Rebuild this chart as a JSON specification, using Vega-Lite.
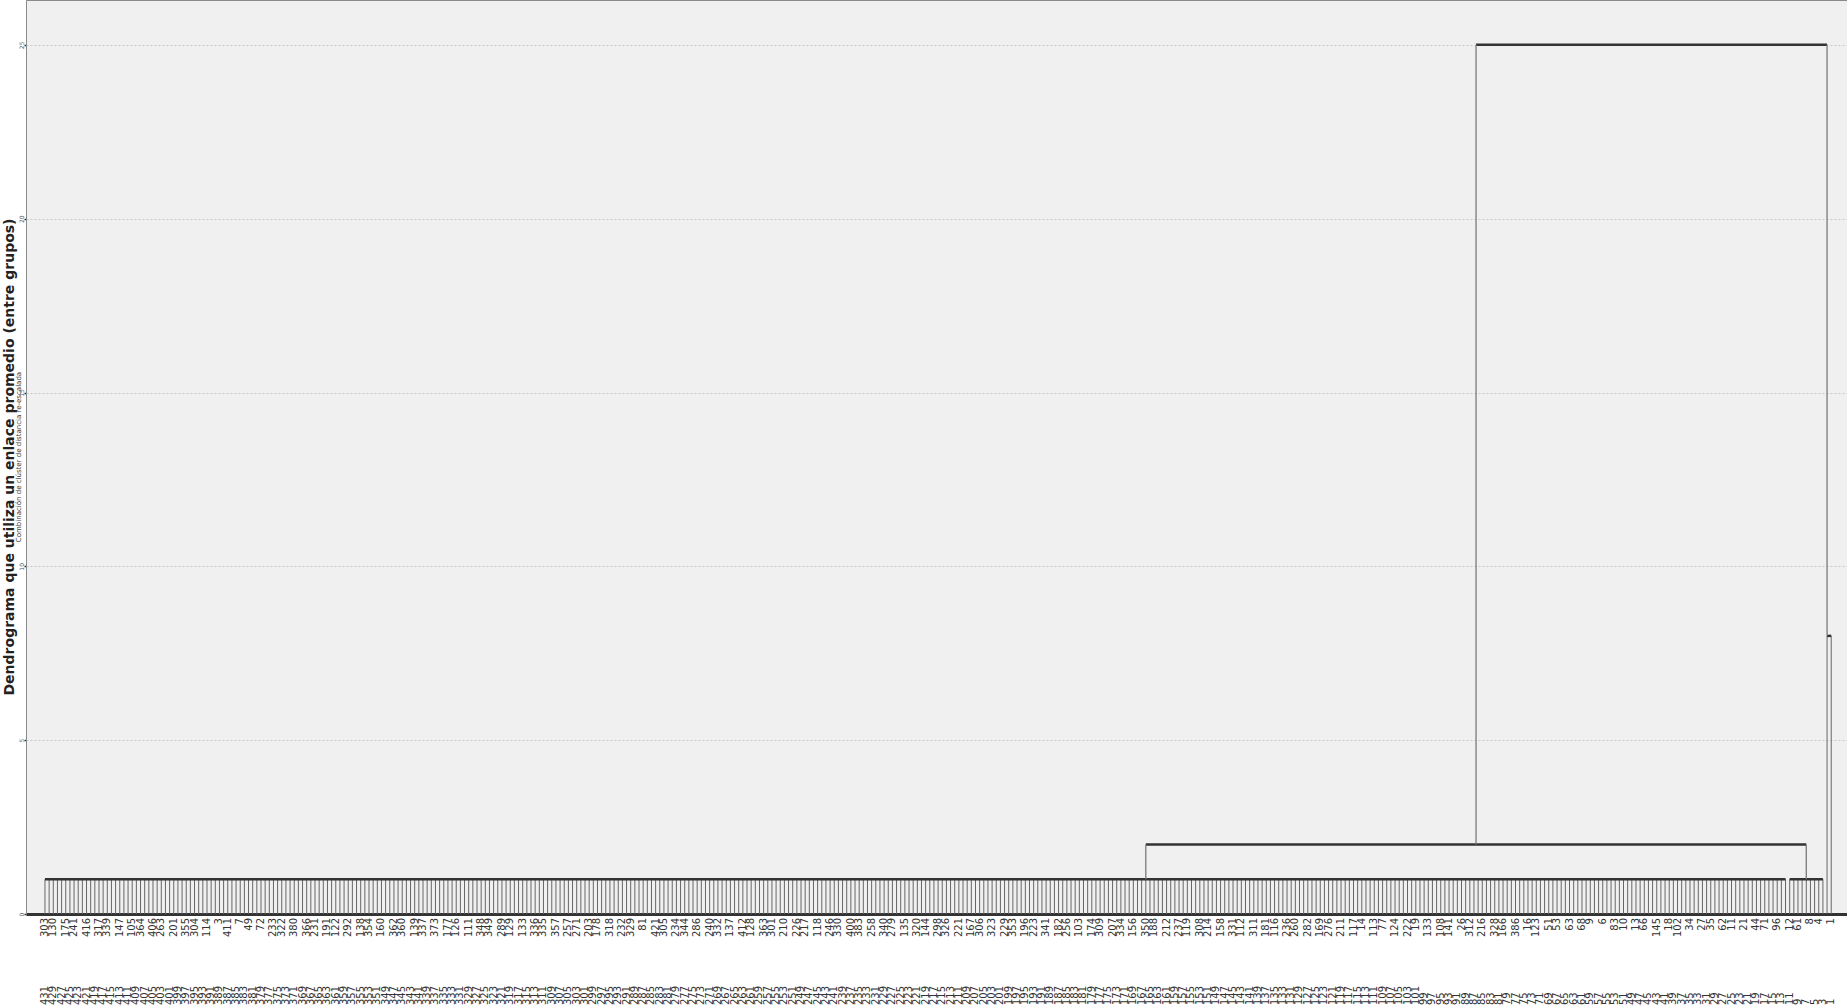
{
"$schema": "https://vega.github.io/schema/vega-lite/v6.json",
"width": 1821, "height": 914,
"autosize": {"type": "none"},
"padding": {"left": 26, "top": 0, "right": 0, "bottom": 94},
"background": "white",
"config": {"view": {"fill": "#f0f0f0", "stroke": "#8a8a8a", "strokeWidth": 1}, "font": "DejaVu Sans"},
"title": {"text": "Dendrograma que utiliza un enlace promedio (entre grupos)", "subtitle": "Combinación de clúster de distancia re-escalada", "orient": "left", "anchor": "middle", "frame": "group", "fontSize": 14, "fontWeight": "bold", "color": "#222222", "subtitleFontSize": 7, "subtitleColor": "#333333", "subtitlePadding": -2, "offset": -4, "font": "DejaVu Sans", "subtitleFont": "DejaVu Sans"},
"datasets": {
"leaves": [
{"p":1,"n":431,"h":1},{"p":2,"n":430,"h":1},{"p":3,"n":429,"h":1},{"p":4,"n":428,"h":1},{"p":5,"n":427,"h":1},{"p":6,"n":426,"h":1},{"p":7,"n":425,"h":1},{"p":8,"n":424,"h":1},{"p":9,"n":423,"h":1},{"p":10,"n":422,"h":1},
{"p":11,"n":421,"h":1},{"p":12,"n":420,"h":1},{"p":13,"n":419,"h":1},{"p":14,"n":418,"h":1},{"p":15,"n":417,"h":1},{"p":16,"n":416,"h":1},{"p":17,"n":415,"h":1},{"p":18,"n":414,"h":1},{"p":19,"n":413,"h":1},{"p":20,"n":412,"h":1},
{"p":21,"n":411,"h":1},{"p":22,"n":410,"h":1},{"p":23,"n":409,"h":1},{"p":24,"n":408,"h":1},{"p":25,"n":407,"h":1},{"p":26,"n":406,"h":1},{"p":27,"n":405,"h":1},{"p":28,"n":404,"h":1},{"p":29,"n":403,"h":1},{"p":30,"n":402,"h":1},
{"p":31,"n":401,"h":1},{"p":32,"n":400,"h":1},{"p":33,"n":399,"h":1},{"p":34,"n":398,"h":1},{"p":35,"n":397,"h":1},{"p":36,"n":396,"h":1},{"p":37,"n":395,"h":1},{"p":38,"n":394,"h":1},{"p":39,"n":393,"h":1},{"p":40,"n":392,"h":1},
{"p":41,"n":391,"h":1},{"p":42,"n":390,"h":1},{"p":43,"n":389,"h":1},{"p":44,"n":388,"h":1},{"p":45,"n":387,"h":1},{"p":46,"n":386,"h":1},{"p":47,"n":385,"h":1},{"p":48,"n":384,"h":1},{"p":49,"n":383,"h":1},{"p":50,"n":382,"h":1},
{"p":51,"n":381,"h":1},{"p":52,"n":380,"h":1},{"p":53,"n":379,"h":1},{"p":54,"n":378,"h":1},{"p":55,"n":377,"h":1},{"p":56,"n":376,"h":1},{"p":57,"n":375,"h":1},{"p":58,"n":374,"h":1},{"p":59,"n":373,"h":1},{"p":60,"n":372,"h":1},
{"p":61,"n":371,"h":1},{"p":62,"n":370,"h":1},{"p":63,"n":369,"h":1},{"p":64,"n":368,"h":1},{"p":65,"n":367,"h":1},{"p":66,"n":366,"h":1},{"p":67,"n":365,"h":1},{"p":68,"n":364,"h":1},{"p":69,"n":363,"h":1},{"p":70,"n":362,"h":1},
{"p":71,"n":361,"h":1},{"p":72,"n":360,"h":1},{"p":73,"n":359,"h":1},{"p":74,"n":358,"h":1},{"p":75,"n":357,"h":1},{"p":76,"n":356,"h":1},{"p":77,"n":355,"h":1},{"p":78,"n":354,"h":1},{"p":79,"n":353,"h":1},{"p":80,"n":352,"h":1},
{"p":81,"n":351,"h":1},{"p":82,"n":350,"h":1},{"p":83,"n":349,"h":1},{"p":84,"n":348,"h":1},{"p":85,"n":347,"h":1},{"p":86,"n":346,"h":1},{"p":87,"n":345,"h":1},{"p":88,"n":344,"h":1},{"p":89,"n":343,"h":1},{"p":90,"n":342,"h":1},
{"p":91,"n":341,"h":1},{"p":92,"n":340,"h":1},{"p":93,"n":339,"h":1},{"p":94,"n":338,"h":1},{"p":95,"n":337,"h":1},{"p":96,"n":336,"h":1},{"p":97,"n":335,"h":1},{"p":98,"n":334,"h":1},{"p":99,"n":333,"h":1},{"p":100,"n":332,"h":1},
{"p":101,"n":331,"h":1},{"p":102,"n":330,"h":1},{"p":103,"n":329,"h":1},{"p":104,"n":328,"h":1},{"p":105,"n":327,"h":1},{"p":106,"n":326,"h":1},{"p":107,"n":325,"h":1},{"p":108,"n":324,"h":1},{"p":109,"n":323,"h":1},{"p":110,"n":322,"h":1},
{"p":111,"n":321,"h":1},{"p":112,"n":320,"h":1},{"p":113,"n":319,"h":1},{"p":114,"n":318,"h":1},{"p":115,"n":317,"h":1},{"p":116,"n":316,"h":1},{"p":117,"n":315,"h":1},{"p":118,"n":314,"h":1},{"p":119,"n":313,"h":1},{"p":120,"n":312,"h":1},
{"p":121,"n":311,"h":1},{"p":122,"n":310,"h":1},{"p":123,"n":309,"h":1},{"p":124,"n":308,"h":1},{"p":125,"n":307,"h":1},{"p":126,"n":306,"h":1},{"p":127,"n":305,"h":1},{"p":128,"n":304,"h":1},{"p":129,"n":303,"h":1},{"p":130,"n":302,"h":1},
{"p":131,"n":301,"h":1},{"p":132,"n":300,"h":1},{"p":133,"n":299,"h":1},{"p":134,"n":298,"h":1},{"p":135,"n":297,"h":1},{"p":136,"n":296,"h":1},{"p":137,"n":295,"h":1},{"p":138,"n":294,"h":1},{"p":139,"n":293,"h":1},{"p":140,"n":292,"h":1},
{"p":141,"n":291,"h":1},{"p":142,"n":290,"h":1},{"p":143,"n":289,"h":1},{"p":144,"n":288,"h":1},{"p":145,"n":287,"h":1},{"p":146,"n":286,"h":1},{"p":147,"n":285,"h":1},{"p":148,"n":284,"h":1},{"p":149,"n":283,"h":1},{"p":150,"n":282,"h":1},
{"p":151,"n":281,"h":1},{"p":152,"n":280,"h":1},{"p":153,"n":279,"h":1},{"p":154,"n":278,"h":1},{"p":155,"n":277,"h":1},{"p":156,"n":276,"h":1},{"p":157,"n":275,"h":1},{"p":158,"n":274,"h":1},{"p":159,"n":273,"h":1},{"p":160,"n":272,"h":1},
{"p":161,"n":271,"h":1},{"p":162,"n":270,"h":1},{"p":163,"n":269,"h":1},{"p":164,"n":268,"h":1},{"p":165,"n":267,"h":1},{"p":166,"n":266,"h":1},{"p":167,"n":265,"h":1},{"p":168,"n":264,"h":1},{"p":169,"n":263,"h":1},{"p":170,"n":262,"h":1},
{"p":171,"n":261,"h":1},{"p":172,"n":260,"h":1},{"p":173,"n":259,"h":1},{"p":174,"n":258,"h":1},{"p":175,"n":257,"h":1},{"p":176,"n":256,"h":1},{"p":177,"n":255,"h":1},{"p":178,"n":254,"h":1},{"p":179,"n":253,"h":1},{"p":180,"n":252,"h":1},
{"p":181,"n":251,"h":1},{"p":182,"n":250,"h":1},{"p":183,"n":249,"h":1},{"p":184,"n":248,"h":1},{"p":185,"n":247,"h":1},{"p":186,"n":246,"h":1},{"p":187,"n":245,"h":1},{"p":188,"n":244,"h":1},{"p":189,"n":243,"h":1},{"p":190,"n":242,"h":1},
{"p":191,"n":241,"h":1},{"p":192,"n":240,"h":1},{"p":193,"n":239,"h":1},{"p":194,"n":238,"h":1},{"p":195,"n":237,"h":1},{"p":196,"n":236,"h":1},{"p":197,"n":235,"h":1},{"p":198,"n":234,"h":1},{"p":199,"n":233,"h":1},{"p":200,"n":232,"h":1},
{"p":201,"n":231,"h":1},{"p":202,"n":230,"h":1},{"p":203,"n":229,"h":1},{"p":204,"n":228,"h":1},{"p":205,"n":227,"h":1},{"p":206,"n":226,"h":1},{"p":207,"n":225,"h":1},{"p":208,"n":224,"h":1},{"p":209,"n":223,"h":1},{"p":210,"n":222,"h":1},
{"p":211,"n":221,"h":1},{"p":212,"n":220,"h":1},{"p":213,"n":219,"h":1},{"p":214,"n":218,"h":1},{"p":215,"n":217,"h":1},{"p":216,"n":216,"h":1},{"p":217,"n":215,"h":1},{"p":218,"n":214,"h":1},{"p":219,"n":213,"h":1},{"p":220,"n":212,"h":1},
{"p":221,"n":211,"h":1},{"p":222,"n":210,"h":1},{"p":223,"n":209,"h":1},{"p":224,"n":208,"h":1},{"p":225,"n":207,"h":1},{"p":226,"n":206,"h":1},{"p":227,"n":205,"h":1},{"p":228,"n":204,"h":1},{"p":229,"n":203,"h":1},{"p":230,"n":202,"h":1},
{"p":231,"n":201,"h":1},{"p":232,"n":200,"h":1},{"p":233,"n":199,"h":1},{"p":234,"n":198,"h":1},{"p":235,"n":197,"h":1},{"p":236,"n":196,"h":1},{"p":237,"n":195,"h":1},{"p":238,"n":194,"h":1},{"p":239,"n":193,"h":1},{"p":240,"n":192,"h":1},
{"p":241,"n":191,"h":1},{"p":242,"n":190,"h":1},{"p":243,"n":189,"h":1},{"p":244,"n":188,"h":1},{"p":245,"n":187,"h":1},{"p":246,"n":186,"h":1},{"p":247,"n":185,"h":1},{"p":248,"n":184,"h":1},{"p":249,"n":183,"h":1},{"p":250,"n":182,"h":1},
{"p":251,"n":181,"h":1},{"p":252,"n":180,"h":1},{"p":253,"n":179,"h":1},{"p":254,"n":178,"h":1},{"p":255,"n":177,"h":1},{"p":256,"n":176,"h":1},{"p":257,"n":175,"h":1},{"p":258,"n":174,"h":1},{"p":259,"n":173,"h":1},{"p":260,"n":172,"h":1},
{"p":261,"n":171,"h":1},{"p":262,"n":170,"h":1},{"p":263,"n":169,"h":1},{"p":264,"n":168,"h":1},{"p":265,"n":167,"h":1},{"p":266,"n":166,"h":1},{"p":267,"n":165,"h":1},{"p":268,"n":164,"h":1},{"p":269,"n":163,"h":1},{"p":270,"n":162,"h":1},
{"p":271,"n":161,"h":1},{"p":272,"n":160,"h":1},{"p":273,"n":159,"h":1},{"p":274,"n":158,"h":1},{"p":275,"n":157,"h":1},{"p":276,"n":156,"h":1},{"p":277,"n":155,"h":1},{"p":278,"n":154,"h":1},{"p":279,"n":153,"h":1},{"p":280,"n":152,"h":1},
{"p":281,"n":151,"h":1},{"p":282,"n":150,"h":1},{"p":283,"n":149,"h":1},{"p":284,"n":148,"h":1},{"p":285,"n":147,"h":1},{"p":286,"n":146,"h":1},{"p":287,"n":145,"h":1},{"p":288,"n":144,"h":1},{"p":289,"n":143,"h":1},{"p":290,"n":142,"h":1},
{"p":291,"n":141,"h":1},{"p":292,"n":140,"h":1},{"p":293,"n":139,"h":1},{"p":294,"n":138,"h":1},{"p":295,"n":137,"h":1},{"p":296,"n":136,"h":1},{"p":297,"n":135,"h":1},{"p":298,"n":134,"h":1},{"p":299,"n":133,"h":1},{"p":300,"n":132,"h":1},
{"p":301,"n":131,"h":1},{"p":302,"n":130,"h":1},{"p":303,"n":129,"h":1},{"p":304,"n":128,"h":1},{"p":305,"n":127,"h":1},{"p":306,"n":126,"h":1},{"p":307,"n":125,"h":1},{"p":308,"n":124,"h":1},{"p":309,"n":123,"h":1},{"p":310,"n":122,"h":1},
{"p":311,"n":121,"h":1},{"p":312,"n":120,"h":1},{"p":313,"n":119,"h":1},{"p":314,"n":118,"h":1},{"p":315,"n":117,"h":1},{"p":316,"n":116,"h":1},{"p":317,"n":115,"h":1},{"p":318,"n":114,"h":1},{"p":319,"n":113,"h":1},{"p":320,"n":112,"h":1},
{"p":321,"n":111,"h":1},{"p":322,"n":110,"h":1},{"p":323,"n":109,"h":1},{"p":324,"n":108,"h":1},{"p":325,"n":107,"h":1},{"p":326,"n":106,"h":1},{"p":327,"n":105,"h":1},{"p":328,"n":104,"h":1},{"p":329,"n":103,"h":1},{"p":330,"n":102,"h":1},
{"p":331,"n":101,"h":1},{"p":332,"n":100,"h":1},{"p":333,"n":99,"h":1},{"p":334,"n":98,"h":1},{"p":335,"n":97,"h":1},{"p":336,"n":96,"h":1},{"p":337,"n":95,"h":1},{"p":338,"n":94,"h":1},{"p":339,"n":93,"h":1},{"p":340,"n":92,"h":1},
{"p":341,"n":91,"h":1},{"p":342,"n":90,"h":1},{"p":343,"n":89,"h":1},{"p":344,"n":88,"h":1},{"p":345,"n":87,"h":1},{"p":346,"n":86,"h":1},{"p":347,"n":85,"h":1},{"p":348,"n":84,"h":1},{"p":349,"n":83,"h":1},{"p":350,"n":82,"h":1},
{"p":351,"n":81,"h":1},{"p":352,"n":80,"h":1},{"p":353,"n":79,"h":1},{"p":354,"n":78,"h":1},{"p":355,"n":77,"h":1},{"p":356,"n":76,"h":1},{"p":357,"n":75,"h":1},{"p":358,"n":74,"h":1},{"p":359,"n":73,"h":1},{"p":360,"n":72,"h":1},
{"p":361,"n":71,"h":1},{"p":362,"n":70,"h":1},{"p":363,"n":69,"h":1},{"p":364,"n":68,"h":1},{"p":365,"n":67,"h":1},{"p":366,"n":66,"h":1},{"p":367,"n":65,"h":1},{"p":368,"n":64,"h":1},{"p":369,"n":63,"h":1},{"p":370,"n":62,"h":1},
{"p":371,"n":61,"h":1},{"p":372,"n":60,"h":1},{"p":373,"n":59,"h":1},{"p":374,"n":58,"h":1},{"p":375,"n":57,"h":1},{"p":376,"n":56,"h":1},{"p":377,"n":55,"h":1},{"p":378,"n":54,"h":1},{"p":379,"n":53,"h":1},{"p":380,"n":52,"h":1},
{"p":381,"n":51,"h":1},{"p":382,"n":50,"h":1},{"p":383,"n":49,"h":1},{"p":384,"n":48,"h":1},{"p":385,"n":47,"h":1},{"p":386,"n":46,"h":1},{"p":387,"n":45,"h":1},{"p":388,"n":44,"h":1},{"p":389,"n":43,"h":1},{"p":390,"n":42,"h":1},
{"p":391,"n":41,"h":1},{"p":392,"n":40,"h":1},{"p":393,"n":39,"h":1},{"p":394,"n":38,"h":1},{"p":395,"n":37,"h":1},{"p":396,"n":36,"h":1},{"p":397,"n":35,"h":1},{"p":398,"n":34,"h":1},{"p":399,"n":33,"h":1},{"p":400,"n":32,"h":1},
{"p":401,"n":31,"h":1},{"p":402,"n":30,"h":1},{"p":403,"n":29,"h":1},{"p":404,"n":28,"h":1},{"p":405,"n":27,"h":1},{"p":406,"n":26,"h":1},{"p":407,"n":25,"h":1},{"p":408,"n":24,"h":1},{"p":409,"n":23,"h":1},{"p":410,"n":22,"h":1},
{"p":411,"n":21,"h":1},{"p":412,"n":20,"h":1},{"p":413,"n":19,"h":1},{"p":414,"n":18,"h":1},{"p":415,"n":17,"h":1},{"p":416,"n":16,"h":1},{"p":417,"n":15,"h":1},{"p":418,"n":14,"h":1},{"p":419,"n":13,"h":1},{"p":420,"n":12,"h":1},
{"p":421,"n":11,"h":1},{"p":422,"n":10,"h":1},{"p":423,"n":9,"h":1},{"p":424,"n":8,"h":1},{"p":425,"n":7,"h":1},{"p":426,"n":6,"h":1},{"p":427,"n":5,"h":1},{"p":428,"n":4,"h":1},{"p":429,"n":3,"h":1},{"p":430,"n":2,"h":8},
{"p":431,"n":1,"h":8}
],
"links": [
{"x":1,"x2":420,"y":1,"y2":1,"k":"h"},
{"x":421,"x2":429,"y":1,"y2":1,"k":"h"},
{"x":266,"x2":425,"y":2,"y2":2,"k":"h"},
{"x":430,"x2":431,"y":8,"y2":8,"k":"h"},
{"x":345.5,"x2":430,"y":25,"y2":25,"k":"h"},
{"x":266,"x2":266,"y":1,"y2":2,"k":"v"},
{"x":425,"x2":425,"y":1,"y2":2,"k":"v"},
{"x":345.5,"x2":345.5,"y":2,"y2":25,"k":"v"},
{"x":430,"x2":430,"y":8,"y2":25,"k":"v"}
],
"nums": [
{"p":1,"t":"303"},{"p":3,"t":"130"},{"p":6,"t":"175"},{"p":8,"t":"241"},{"p":11,"t":"416"},{"p":14,"t":"317"},{"p":16,"t":"339"},{"p":19,"t":"147"},
{"p":22,"t":"105"},{"p":24,"t":"364"},{"p":27,"t":"406"},{"p":29,"t":"263"},{"p":32,"t":"201"},{"p":35,"t":"355"},{"p":37,"t":"304"},{"p":40,"t":"114"},
{"p":43,"t":"3"},{"p":45,"t":"411"},{"p":48,"t":"7"},{"p":50,"t":"49"},{"p":53,"t":"72"},{"p":56,"t":"233"},{"p":58,"t":"322"},{"p":61,"t":"380"},
{"p":64,"t":"366"},{"p":66,"t":"231"},{"p":69,"t":"191"},{"p":71,"t":"122"},{"p":74,"t":"292"},{"p":77,"t":"138"},{"p":79,"t":"354"},{"p":82,"t":"160"},
{"p":85,"t":"362"},{"p":87,"t":"360"},{"p":90,"t":"139"},{"p":92,"t":"337"},{"p":95,"t":"373"},{"p":98,"t":"177"},{"p":100,"t":"126"},{"p":103,"t":"111"},
{"p":106,"t":"348"},{"p":108,"t":"349"},{"p":111,"t":"289"},{"p":113,"t":"129"},{"p":116,"t":"133"},{"p":119,"t":"336"},{"p":121,"t":"335"},{"p":124,"t":"357"},
{"p":127,"t":"257"},{"p":129,"t":"271"},{"p":132,"t":"203"},{"p":134,"t":"178"},{"p":137,"t":"318"},{"p":140,"t":"232"},{"p":142,"t":"329"},{"p":145,"t":"81"},
{"p":148,"t":"421"},{"p":150,"t":"305"},{"p":153,"t":"234"},{"p":155,"t":"344"},{"p":158,"t":"286"},{"p":161,"t":"240"},{"p":163,"t":"332"},{"p":166,"t":"137"},
{"p":169,"t":"412"},{"p":171,"t":"128"},{"p":174,"t":"363"},{"p":176,"t":"301"},{"p":179,"t":"210"},{"p":182,"t":"226"},{"p":184,"t":"217"},{"p":187,"t":"118"},
{"p":190,"t":"246"},{"p":192,"t":"330"},{"p":195,"t":"400"},{"p":197,"t":"383"},{"p":200,"t":"258"},{"p":203,"t":"340"},{"p":205,"t":"279"},{"p":208,"t":"135"},
{"p":211,"t":"320"},{"p":213,"t":"144"},{"p":216,"t":"298"},{"p":218,"t":"326"},{"p":221,"t":"221"},{"p":224,"t":"167"},{"p":226,"t":"306"},{"p":229,"t":"323"},
{"p":232,"t":"229"},{"p":234,"t":"353"},{"p":237,"t":"196"},{"p":239,"t":"223"},{"p":242,"t":"341"},{"p":245,"t":"182"},{"p":247,"t":"256"},{"p":250,"t":"103"},
{"p":253,"t":"174"},{"p":255,"t":"309"},{"p":258,"t":"207"},{"p":260,"t":"334"},{"p":263,"t":"156"},{"p":266,"t":"350"},{"p":268,"t":"188"},{"p":271,"t":"212"},
{"p":274,"t":"237"},{"p":276,"t":"119"},{"p":279,"t":"308"},{"p":281,"t":"214"},{"p":284,"t":"158"},{"p":287,"t":"331"},{"p":289,"t":"112"},{"p":292,"t":"311"},
{"p":295,"t":"181"},{"p":297,"t":"116"},{"p":300,"t":"236"},{"p":302,"t":"260"},{"p":305,"t":"282"},{"p":308,"t":"169"},{"p":310,"t":"276"},{"p":313,"t":"211"},
{"p":316,"t":"117"},{"p":318,"t":"14"},{"p":321,"t":"113"},{"p":323,"t":"77"},{"p":326,"t":"124"},{"p":329,"t":"222"},{"p":331,"t":"19"},{"p":334,"t":"133"},
{"p":337,"t":"108"},{"p":339,"t":"141"},{"p":342,"t":"26"},{"p":344,"t":"312"},{"p":347,"t":"216"},{"p":350,"t":"328"},{"p":352,"t":"166"},{"p":355,"t":"386"},
{"p":358,"t":"16"},{"p":360,"t":"123"},{"p":363,"t":"51"},{"p":365,"t":"53"},{"p":368,"t":"63"},{"p":371,"t":"68"},{"p":373,"t":"9"},{"p":376,"t":"6"},
{"p":379,"t":"83"},{"p":381,"t":"10"},{"p":384,"t":"13"},{"p":386,"t":"66"},{"p":389,"t":"145"},{"p":392,"t":"18"},{"p":394,"t":"102"},{"p":397,"t":"34"},
{"p":400,"t":"27"},{"p":402,"t":"35"},{"p":405,"t":"62"},{"p":407,"t":"11"},{"p":410,"t":"21"},{"p":413,"t":"44"},{"p":415,"t":"71"},{"p":418,"t":"96"},
{"p":421,"t":"12"},{"p":423,"t":"61"},{"p":426,"t":"8"},{"p":428,"t":"4"},{"p":431,"t":"1"}
]
},
"layer": [
{"data": {"name": "leaves"},
 "mark": {"type": "rule", "stroke": "#666666", "strokeWidth": 1},
 "encoding": {
  "x": {"field": "p", "type": "quantitative", "title": null,
        "scale": {"type": "linear", "domain": [-3.57, 434.8], "nice": false, "zero": false},
        "axis": {"labels": false, "ticks": false, "grid": false, "domainColor": "#333333", "domainWidth": 3, "title": null}},
  "y": {"field": "h", "type": "quantitative", "title": null,
        "scale": {"domain": [0, 26.29], "nice": false, "zero": true},
        "axis": {"values": [0, 5, 10, 15, 20, 25], "labelAngle": 270, "labelFontSize": 6, "labelColor": "#555555", "tickSize": 2, "tickColor": "#333333", "tickWidth": 1.5, "labelPadding": 0, "domainColor": "#8a8a8a", "grid": true, "gridColor": "#c8c8c8", "gridDash": [2, 2], "gridWidth": 1, "title": null}},
  "y2": {"datum": 0}
 }},
{"data": {"name": "links"},
 "mark": {"type": "rule"},
 "encoding": {
  "x": {"field": "x", "type": "quantitative", "title": null},
  "x2": {"field": "x2"},
  "y": {"field": "y", "type": "quantitative", "title": null},
  "y2": {"field": "y2"},
  "color": {"field": "k", "type": "nominal", "scale": {"domain": ["h", "v"], "range": ["#333333", "#7a7a7a"]}, "legend": null},
  "strokeWidth": {"field": "k", "type": "nominal", "scale": {"domain": ["h", "v"], "range": [2.5, 1.3]}, "legend": null}
 }},
{"data": {"name": "nums"},
 "mark": {"type": "text", "angle": 270, "align": "right", "baseline": "middle", "dx": -4, "fontSize": 10, "color": "#333333", "font": "DejaVu Sans"},
 "encoding": {
  "x": {"field": "p", "type": "quantitative", "title": null},
  "y": {"datum": 0},
  "text": {"field": "t", "type": "nominal"}
 }},
{"data": {"name": "leaves"},
 "transform": [{"filter": "datum.n % 2 == 1"}],
 "mark": {"type": "text", "angle": 270, "align": "left", "baseline": "middle", "dx": -91, "fontSize": 10, "color": "#333333", "font": "DejaVu Sans"},
 "encoding": {
  "x": {"field": "p", "type": "quantitative", "title": null},
  "y": {"datum": 0},
  "text": {"field": "n", "type": "nominal"}
 }}
]
}
